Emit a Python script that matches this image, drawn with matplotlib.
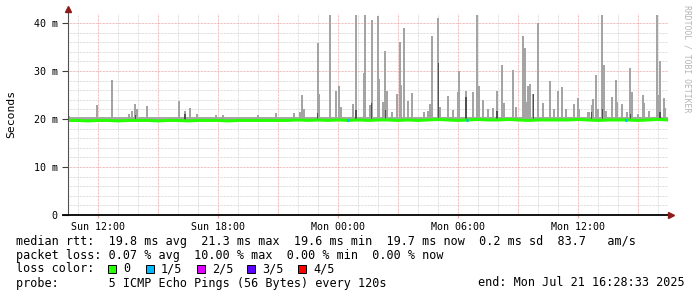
import numpy as np
import matplotlib.pyplot as plt
from matplotlib.patches import Rectangle

plt.rcParams['font.family'] = 'DejaVu Sans Mono'

# time in hours since Sun 00:00, graph ends Mon 16:28:33
t_start, t_end = 10.476, 40.476
tick_hours = [12, 18, 24, 30, 36]
tick_labels = ["Sun 12:00", "Sun 18:00", "Mon 00:00", "Mon 06:00", "Mon 12:00"]
ytick_ms = [0, 10, 20, 30, 40]
ytick_labels = ["0", "10 m", "20 m", "30 m", "40 m"]

# median rtt (ms), one value per 30 min from 10:30
median_hours = np.arange(10.5, 40.51, 0.5)
median_ms = [19.7, 19.7, 19.6, 19.7, 19.7, 19.6, 19.7, 19.7, 19.7, 19.6,
             19.7, 19.7, 19.6, 19.7, 19.7, 19.7, 19.6, 19.7, 19.7, 19.7,
             19.7, 19.7, 19.7, 19.8, 19.7, 19.8, 19.7, 19.8, 19.7, 19.8,
             19.7, 19.8, 19.8, 19.7, 19.8, 19.7, 19.8, 19.9, 19.8, 19.7,
             19.8, 19.9, 19.8, 19.8, 19.9, 19.8, 19.7, 19.8, 19.8, 19.8,
             19.8, 19.9, 19.8, 19.7, 19.8, 19.8, 19.8, 19.7, 19.8, 19.9,
             19.8]

# normal smoke band (ms)
smoke_lo, smoke_hi = 19.5, 20.35

# max ping spikes (hour, ms)
spike_hours = [10.57, 11.95, 12.69, 13.57, 13.70, 13.87, 13.95, 14.44, 16.07, 16.35,
               16.62, 16.95, 17.90, 18.25, 20.00, 20.90, 21.79, 22.10, 22.20, 22.29,
               22.99, 23.05, 23.62, 23.90, 24.07, 24.15, 24.77, 24.90, 25.30, 25.37,
               25.62, 25.69, 25.99, 26.04, 26.27, 26.37, 26.44, 26.70, 26.95, 27.10,
               27.15, 27.29, 27.49, 27.69, 28.29, 28.52, 28.62, 28.70, 29.02, 29.10,
               29.49, 29.77, 29.99, 30.07, 30.40, 30.77, 30.95, 31.07, 31.24, 31.49,
               31.74, 31.95, 32.19, 32.29, 32.77, 32.90, 33.24, 33.35, 33.44, 33.50,
               33.62, 33.77, 33.99, 34.27, 34.62, 34.82, 35.02, 35.19, 35.40, 35.79,
               36.02, 36.07, 36.49, 36.57, 36.69, 36.77, 36.90, 36.99, 37.22, 37.29,
               37.40, 37.69, 37.90, 37.95, 38.19, 38.45, 38.62, 38.69, 39.02, 39.24,
               39.32, 39.57, 39.95, 40.02, 40.10, 40.29, 40.37]
spike_ms = [20.6, 22.9, 28.1, 21.0, 21.7, 23.1, 22.0, 22.7, 23.7, 21.7,
            22.2, 21.0, 20.8, 20.8, 20.8, 21.3, 21.3, 21.4, 25.0, 22.0,
            35.8, 25.2, 41.7, 25.9, 26.9, 22.5, 23.1, 41.7, 29.6, 41.7,
            22.9, 40.6, 41.5, 28.3, 23.5, 34.2, 25.8, 21.5, 25.3, 36.0,
            27.1, 38.9, 23.7, 25.5, 21.5, 21.7, 23.1, 37.3, 41.0, 22.5,
            24.8, 21.8, 25.6, 29.9, 25.8, 25.7, 41.7, 26.9, 24.0, 22.0,
            22.3, 25.8, 31.2, 23.4, 30.3, 22.4, 37.3, 34.7, 23.5, 26.9,
            27.3, 25.3, 39.9, 23.4, 27.9, 22.0, 25.8, 26.6, 22.0, 23.2,
            24.4, 22.1, 21.4, 21.5, 22.9, 24.1, 29.2, 22.0, 41.7, 31.2,
            21.7, 24.5, 28.1, 23.5, 23.2, 21.4, 30.6, 25.7, 21.0, 25.0,
            23.4, 21.7, 41.7, 25.0, 32.1, 24.3, 22.3]

# darker inner pings (hour, ms)
dark_hours = [13.87, 16.35, 22.99, 24.90, 25.69, 26.37, 29.02, 30.40, 31.95, 33.77,
              36.69, 37.22, 38.62, 40.10]
dark_ms = [20.9, 21.0, 21.2, 21.9, 23.4, 21.9, 31.6, 24.6, 21.7, 25.3,
           21.5, 22.1, 21.0, 21.5]

# 1/5 loss steps
loss1_hours = [24.5, 30.45, 38.4]

loss_labels = ["0", "1/5", "2/5", "3/5", "4/5"]
loss_colors = ["#26ff00", "#00b8ff", "#dd00ff", "#5e00ff", "#ff0000"]

W, H = 697, 297
fig = plt.figure(figsize=(W / 100, H / 100), dpi=100)
ax = fig.add_axes([67.5 / W, 1 - 215 / H, 600 / W, 201 / H])

minor_c = "#d4d4d4"
major_c = "#eaa8a8"
dots = (0, (0.72, 0.72))
for h in np.arange(11, 41, 1):
    ax.axvline(h, color=major_c if h % 3 == 0 else minor_c, lw=0.72, ls=dots, zorder=0)
for v in np.arange(2, 42, 2):
    ax.axhline(v, color=major_c if v % 10 == 0 else minor_c, lw=0.72, ls=dots, zorder=0)

ax.fill_between([t_start, t_end], smoke_lo, smoke_hi, color="#a8a8a8", lw=0, zorder=1)
sp = np.array(spike_ms)
ax.bar(spike_hours, sp - smoke_lo, bottom=smoke_lo, width=0.09,
       color="#a4a4a4", lw=0, zorder=2)
dk = np.array(dark_ms)
ax.bar(dark_hours, dk - smoke_lo, bottom=smoke_lo, width=0.06,
       color="#505050", lw=0, zorder=3)

ax.plot(median_hours, median_ms, color="#26ff00", lw=2.2, zorder=4)
for h in loss1_hours:
    ax.plot([h - 0.05, h + 0.05], [19.8, 19.8], color="#00b8ff", lw=2.2,
            solid_capstyle="butt", zorder=5)

ax.set_xlim(t_start, t_end)
ax.set_ylim(0, 41.875)
ax.set_xticks(tick_hours)
ax.set_xticklabels(tick_labels)
ax.set_yticks(ytick_ms)
ax.set_yticklabels(ytick_labels)
ax.tick_params(axis="x", length=2, color=major_c, pad=3, labelsize=7.2)
ax.tick_params(axis="y", length=4, width=0.8, color="#404040", pad=3, labelsize=7.2)
for s in ["top", "right", "left", "bottom"]:
    ax.spines[s].set_visible(False)

# axis lines with arrows
ax.plot([0, 0], [0, 1.02], transform=ax.transAxes, color="#505050", lw=0.8, clip_on=False, zorder=6)
ax.plot([-0.007, 1.005], [0, 0], transform=ax.transAxes, color="black", lw=1.3, clip_on=False, zorder=6)
ax.plot(0, 1.025, marker="^", ms=5, color="#8b1a1a", transform=ax.transAxes, clip_on=False, zorder=7)
ax.plot(1.006, 0, marker=">", ms=5, color="#8b1a1a", transform=ax.transAxes, clip_on=False, zorder=7)

fig.text(11 / W, 1 - 114 / H, "Seconds", rotation=90, ha="center", va="center", fontsize=8.2)
fig.text(687 / W, 1 - 59 / H, "RRDTOOL / TOBI OETIKER", rotation=-90, ha="center", va="center",
         fontsize=5.9, color="#b4b4b4")

fs = 8.5
x0 = 16 / W
fig.text(x0, 1 - 241 / H,
         "median rtt:  19.8 ms avg  21.3 ms max  19.6 ms min  19.7 ms now  0.2 ms sd  83.7   am/s",
         va="center", fontsize=fs)
fig.text(x0, 1 - 255 / H,
         "packet loss: 0.07 % avg  10.00 % max  0.00 % min  0.00 % now",
         va="center", fontsize=fs)
fig.text(x0, 1 - 269 / H, "loss color:", va="center", fontsize=fs)
box_x = [108, 146, 197, 247, 298]
for bx, lab, col in zip(box_x, loss_labels, loss_colors):
    fig.patches.append(Rectangle((bx / W, 1 - 273 / H), 8 / W, 8 / H, transform=fig.transFigure,
                                 facecolor=col, edgecolor="black", lw=0.7))
    fig.text((bx + 15) / W, 1 - 269 / H, lab, va="center", fontsize=fs)
fig.text(x0, 1 - 283 / H, "probe:       5 ICMP Echo Pings (56 Bytes) every 120s",
         va="center", fontsize=fs)
fig.text(478 / W, 1 - 283 / H, "end: Mon Jul 21 16:28:33 2025", va="center", fontsize=fs)

fig.savefig("out.png", dpi=100)
